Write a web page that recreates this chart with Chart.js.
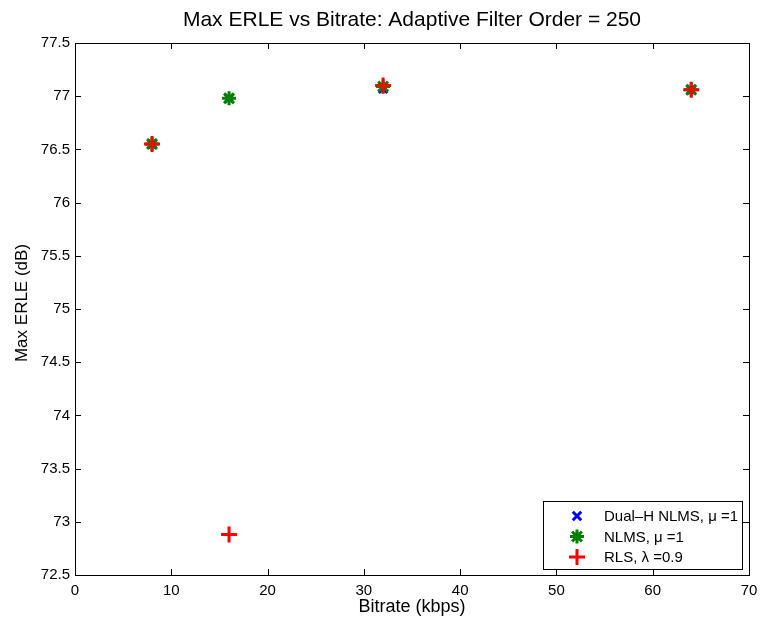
<!DOCTYPE html>
<html>
<head>
<meta charset="utf-8">
<script src="https://cdn.jsdelivr.net/npm/chart.js@4.4.0/dist/chart.umd.min.js"></script>
<style>
  html, body { margin: 0; padding: 0; background: #fff; }
  #wrap { width: 760px; height: 621px; }
</style>
</head>
<body>
<div id="wrap"><canvas id="c" width="760" height="621"></canvas></div>
<script>
// Bitrates tested (kbps) and the maximum ERLE reached by each filter (dB)
const bitrates = [8, 16, 32, 64];
const dualHNlms = [76.55, 76.98, 77.07, 77.06];
const nlms = [76.55, 76.98, 77.09, 77.06];
const rls = [76.55, 72.88, 77.10, 77.06];

const xTicks = [0, 10, 20, 30, 40, 50, 60, 70];
const yTicks = [72.5, 73, 73.5, 74, 74.5, 75, 75.5, 76, 76.5, 77, 77.5];

const seriesNames = ['Dual\u2013H NLMS, \u03bc =1', 'NLMS, \u03bc =1', 'RLS, \u03bb =0.9'];

const FONT = '"Liberation Sans", Arial, Helvetica, sans-serif';

const pts = arr => bitrates.map((b, i) => ({ x: b, y: arr[i] }));

const styles = [
  { color: '#0000ff', pointStyle: 'crossRot', radius: 6, width: 3 },
  { color: '#008000', pointStyle: 'star', radius: 7, width: 3 },
  { color: '#ff0000', pointStyle: 'cross', radius: 8, width: 3 }
];

// Plot frame with inward-pointing ticks on all four sides, title and axis titles
const framePlugin = {
  id: 'frame',
  afterDraw(chart) {
    const { ctx, chartArea: a, scales } = chart;
    ctx.save();
    ctx.strokeStyle = '#000';
    ctx.lineWidth = 1;
    const tl = 6;
    ctx.beginPath();
    xTicks.forEach(v => {
      const x = Math.round(scales.x.getPixelForValue(v)) + 0.5;
      ctx.moveTo(x, a.bottom); ctx.lineTo(x, a.bottom - tl);
      ctx.moveTo(x, a.top); ctx.lineTo(x, a.top + tl);
    });
    yTicks.forEach(v => {
      const y = Math.round(scales.y.getPixelForValue(v)) + 0.5;
      ctx.moveTo(a.left, y); ctx.lineTo(a.left + tl, y);
      ctx.moveTo(a.right, y); ctx.lineTo(a.right - tl, y);
    });
    ctx.stroke();
    ctx.strokeRect(Math.round(a.left) + 0.5, Math.round(a.top) + 0.5,
                   Math.round(a.right - a.left), Math.round(a.bottom - a.top));

    ctx.fillStyle = '#000';
    ctx.textAlign = 'center';
    ctx.textBaseline = 'middle';
    ctx.font = '21px ' + FONT;
    ctx.fillText('Max ERLE vs Bitrate: Adaptive Filter Order = 250', (a.left + a.right) / 2, 20);

    ctx.font = '18px ' + FONT;
    ctx.fillText('Bitrate (kbps)', (a.left + a.right) / 2, 607);
    ctx.font = '17px ' + FONT;
    ctx.translate(22, (a.top + a.bottom) / 2 - 6);
    ctx.rotate(-Math.PI / 2);
    ctx.fillText('Max ERLE (dB)', 0, 0);
    ctx.restore();
  }
};

// Boxed legend in the lower-right corner of the plot
const legendPlugin = {
  id: 'boxLegend',
  afterDraw(chart) {
    const { ctx, chartArea: a } = chart;
    const w = 199, h = 68;
    const x0 = a.right - w - 7, y0 = a.bottom - h - 6;
    ctx.save();
    ctx.fillStyle = '#fff';
    ctx.fillRect(x0, y0, w, h);
    ctx.strokeStyle = '#000';
    ctx.lineWidth = 1;
    ctx.strokeRect(Math.round(x0) + 0.5, Math.round(y0) + 0.5, w, h);
    ctx.font = '15px ' + FONT;
    ctx.textAlign = 'left';
    ctx.textBaseline = 'middle';
    chart.data.datasets.forEach((ds, i) => {
      const cy = y0 + 15 + i * 20.5;
      const st = styles[i];
      ctx.strokeStyle = st.color;
      ctx.fillStyle = st.color;
      ctx.lineWidth = st.width;
      Chart.helpers.drawPoint(ctx, { pointStyle: st.pointStyle, radius: st.radius, borderWidth: st.width, rotation: 0 }, x0 + 34, cy);
      ctx.fillStyle = '#000';
      ctx.fillText(ds.label, x0 + 61, cy + 1);
    });
    ctx.restore();
  }
};

const datasets = [dualHNlms, nlms, rls].map((arr, i) => ({
  label: seriesNames[i],
  data: pts(arr),
  showLine: false,
  pointStyle: styles[i].pointStyle,
  pointRadius: styles[i].radius,
  pointHoverRadius: styles[i].radius,
  borderColor: styles[i].color,
  backgroundColor: styles[i].color,
  pointBorderWidth: styles[i].width,
  order: 2 - i
}));

new Chart(document.getElementById('c'), {
  type: 'scatter',
  data: { datasets },
  options: {
    responsive: false,
    animation: false,
    devicePixelRatio: 1,
    layout: { padding: { left: 0, right: 7, top: 43, bottom: 0 } },
    plugins: {
      legend: { display: false },
      tooltip: { enabled: false },
      title: { display: false }
    },
    scales: {
      x: {
        type: 'linear',
        min: 0, max: 70,
        afterBuildTicks(s) { s.ticks = xTicks.map(v => ({ value: v })); },
        afterFit(s) { s.height = 46; s.paddingLeft = 0; s.paddingRight = 0; },
        grid: { display: false, drawTicks: false },
        border: { display: false },
        ticks: { color: '#000', font: { family: FONT, size: 15 }, padding: 7, maxRotation: 0 }
      },
      y: {
        type: 'linear',
        min: 72.5, max: 77.5,
        afterBuildTicks(s) { s.ticks = yTicks.map(v => ({ value: v })); },
        afterFit(s) { s.width = 75; s.paddingTop = 0; s.paddingBottom = 0; },
        grid: { display: false, drawTicks: false },
        border: { display: false },
        ticks: { color: '#000', font: { family: FONT, size: 15 }, padding: 5, callback: v => String(v) }
      }
    }
  },
  plugins: [framePlugin, legendPlugin]
});
</script>
</body>
</html>
